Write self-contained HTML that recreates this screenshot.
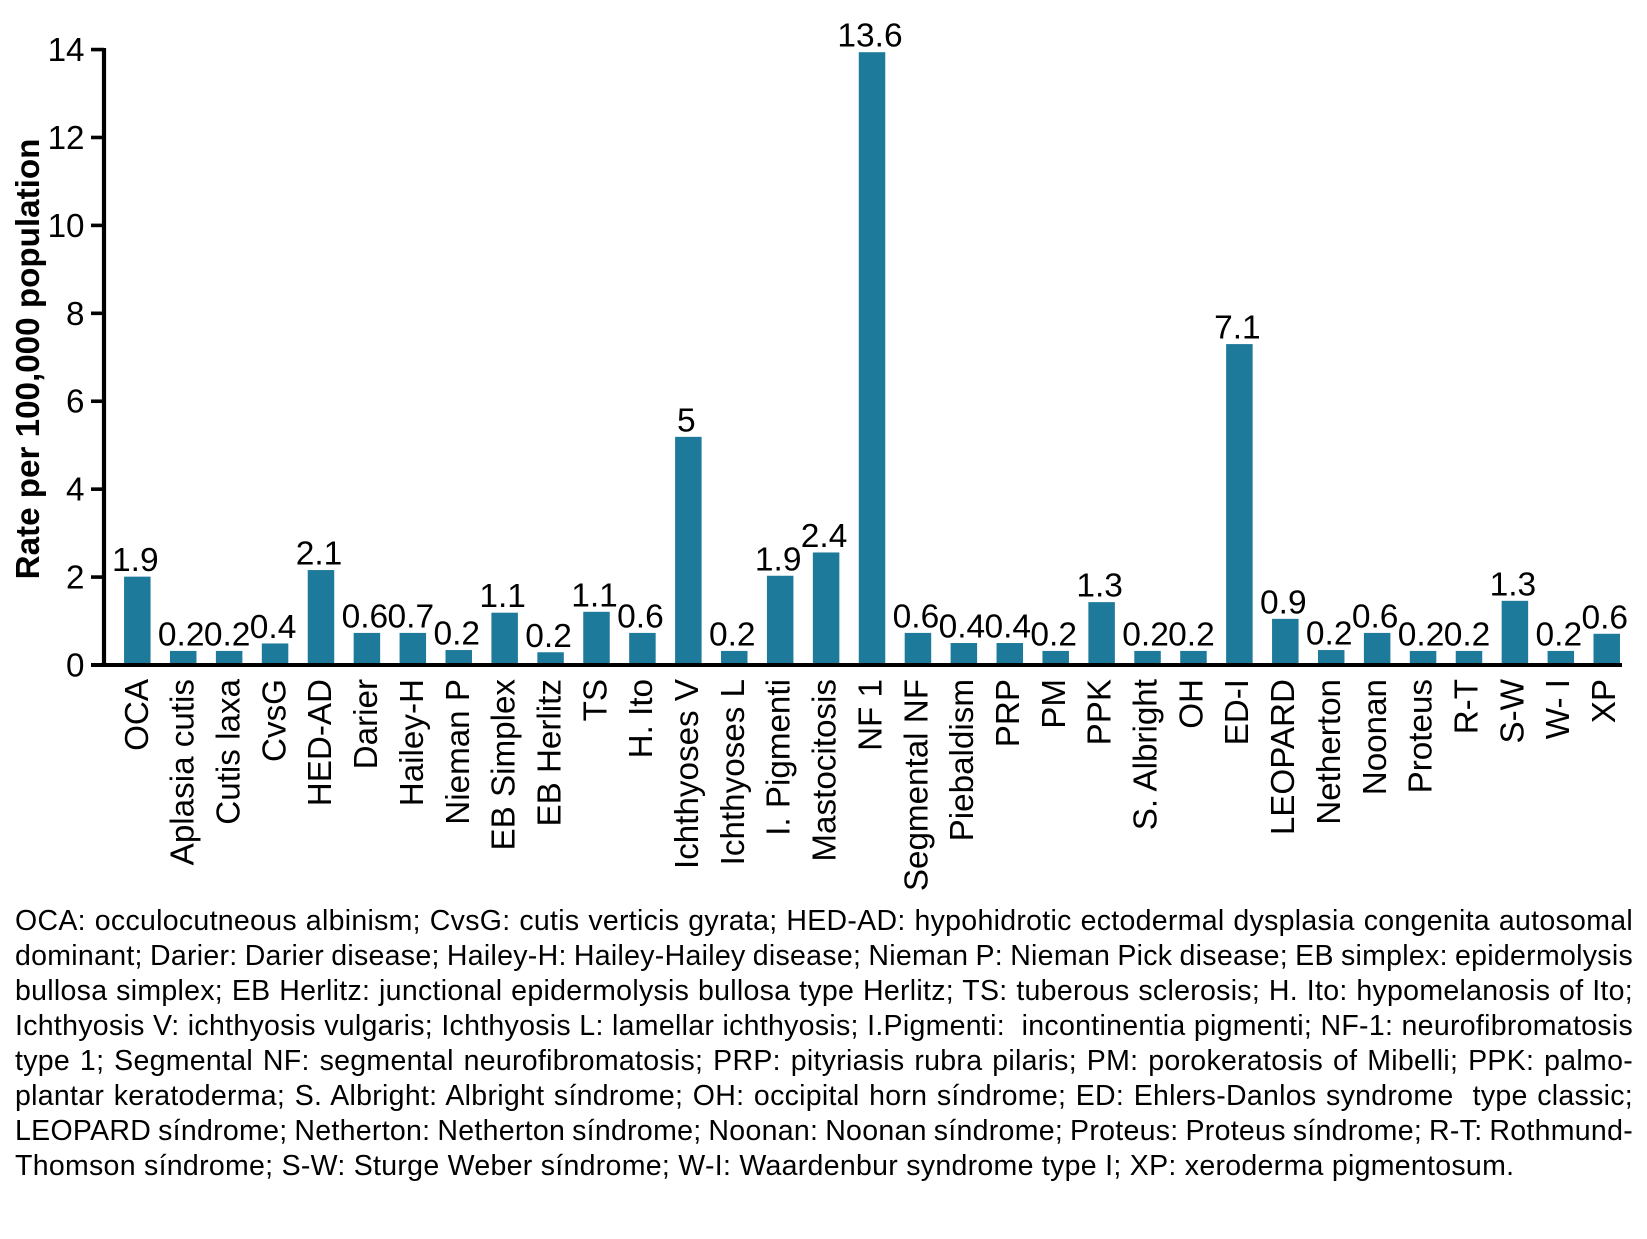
<!DOCTYPE html>
<html lang="en">
<head>
<meta charset="utf-8">
<title>Rate per 100,000 population by genodermatosis</title>
<style>
html,body{margin:0;padding:0;background:#fff;}
#page{position:relative;width:1647px;height:1239px;overflow:hidden;background:#fff;font-family:"Liberation Sans",Arial,sans-serif;color:#000;}
#chart{position:absolute;left:0;top:0;}
#chart text{font-family:"Liberation Sans",Arial,sans-serif;fill:#000;}
#footnote{position:absolute;left:15px;top:904px;width:1618px;font-size:28.5px;letter-spacing:0.29px;line-height:35px;}
#footnote div{height:35px;white-space:pre;}
#footnote span{display:inline-block;}
</style>
</head>
<body>
<div id="page">
<svg id="chart" width="1647" height="900" viewBox="0 0 1647 900" xmlns="http://www.w3.org/2000/svg"></svg>
<div id="footnote">
<div><span>OCA: occulocutneous albinism; CvsG: cutis verticis gyrata; HED-AD: hypohidrotic ectodermal dysplasia congenita autosomal</span></div>
<div><span>dominant; Darier: Darier disease; Hailey-H: Hailey-Hailey disease; Nieman P: Nieman Pick disease; EB simplex: epidermolysis</span></div>
<div><span>bullosa simplex; EB Herlitz: junctional epidermolysis bullosa type Herlitz; TS: tuberous sclerosis; H. Ito: hypomelanosis of Ito;</span></div>
<div><span>Ichthyosis V: ichthyosis vulgaris; Ichthyosis L: lamellar ichthyosis; I.Pigmenti:  incontinentia pigmenti; NF-1: neurofibromatosis</span></div>
<div><span>type 1; Segmental NF: segmental neurofibromatosis; PRP: pityriasis rubra pilaris; PM: porokeratosis of Mibelli; PPK: palmo-</span></div>
<div><span>plantar keratoderma; S. Albright: Albright síndrome; OH: occipital horn síndrome; ED: Ehlers-Danlos syndrome  type classic;</span></div>
<div><span>LEOPARD síndrome; Netherton: Netherton síndrome; Noonan: Noonan síndrome; Proteus: Proteus síndrome; R-T: Rothmund-</span></div>
<div class="last"><span>Thomson síndrome; S-W: Sturge Weber síndrome; W-I: Waardenbur syndrome type I; XP: xeroderma pigmentosum.</span></div>
</div>
</div>
<script>
const categories = ["OCA","Aplasia cutis","Cutis laxa","CvsG","HED-AD","Darier","Hailey-H","Nieman P","EB Simplex","EB Herlitz","TS","H. Ito","Ichthyoses V","Ichthyoses L","I. Pigmenti","Mastocitosis","NF 1","Segmental NF","Piebaldism","PRP","PM","PPK","S. Albright","OH","ED-I","LEOPARD","Netherton","Noonan","Proteus","R-T","S-W","W- I","XP"];
const barValues = [2.01,0.32,0.32,0.49,2.16,0.73,0.73,0.34,1.19,0.29,1.21,0.73,5.19,0.32,2.03,2.56,13.94,0.73,0.5,0.5,0.32,1.43,0.32,0.32,7.3,1.05,0.34,0.73,0.32,0.32,1.46,0.32,0.71];
const printedLabels = ["1.9","0.2","0.2","0.4","2.1","0.6","0.7","0.2","1.1","0.2","1.1","0.6","5","0.2","1.9","2.4","13.6","0.6","0.4","0.4","0.2","1.3","0.2","0.2","7.1","0.9","0.2","0.6","0.2","0.2","1.3","0.2","0.6"];
const yTicks = [0,2,4,6,8,10,12,14];
const yAxisTitle = "Rate per 100,000 population";

const svg = document.getElementById('chart');
const NS = 'http://www.w3.org/2000/svg';
const Y0 = 665, YUNIT = 43.96, X0 = 137.3, XSTEP = 45.92, BARW = 26.5;
function y(v){ return Y0 - v * YUNIT; }
function x(i){ return X0 + i * XSTEP; }
function labelX(i){ return 147.8 + i * 45.85; }
function slug(s){ return s.toLowerCase().replace(/[^a-z0-9]+/g,'-').replace(/^-|-$/g,''); }
function add(tag, attrs, text){
  const e = document.createElementNS(NS, tag);
  for (const k in attrs) e.setAttribute(k, attrs[k]);
  if (text !== undefined) e.textContent = text;
  svg.appendChild(e);
  return e;
}

categories.forEach(function(c, i){
  const bar = add('rect', {x: x(i) - BARW / 2, y: y(barValues[i]), width: BARW, height: Y0 - y(barValues[i]), fill: '#1e7a9b'});
  
  

  const val = add('text', {x: x(i) - 2, y: y(barValues[i]) - 5.5, 'text-anchor': 'middle', 'font-size': 33.5}, printedLabels[i]);
  
  

  const lab = add('text', {transform: 'translate(' + labelX(i) + ',679) rotate(-90)', 'text-anchor': 'end', 'font-size': 33.2}, c);
  
  
});

yTicks.forEach(function(t){
  const tick = add('line', {x1: 91, x2: 104, y1: y(t), y2: y(t), stroke: '#000', 'stroke-width': 3.6});
  
  

  const lab = add('text', {x: 84.5, y: y(t) + 11.5, 'text-anchor': 'end', 'font-size': 33.2}, String(t));
  
  
});

const yAxis = add('line', {x1: 104, x2: 104, y1: y(14) - 1.5, y2: Y0 + 2, stroke: '#000', 'stroke-width': 4.2});



const xAxis = add('line', {x1: 91, x2: 1622, y1: Y0, y2: Y0, stroke: '#000', 'stroke-width': 4});



const yTitle = add('text', {transform: 'translate(39,359) rotate(-90)', 'text-anchor': 'middle', 'font-size': 33.2, 'font-weight': 'bold'}, yAxisTitle);



document.querySelectorAll('#footnote div:not(.last) span').forEach(function(s){
  const spaces = s.textContent.split(' ').length - 1;
  const natural = s.getBoundingClientRect().width;
  s.style.wordSpacing = ((1618 - natural) / spaces) + 'px';
});
</script>
</body>
</html>
